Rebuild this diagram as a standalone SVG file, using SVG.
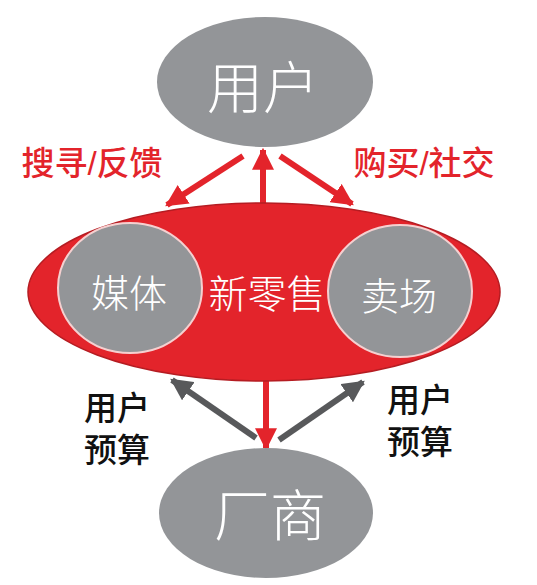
<svg xmlns="http://www.w3.org/2000/svg" width="537" height="585" viewBox="0 0 537 585">
<defs>
<style>
.gray{fill:#939598}
.wt{fill:#ffffff;font-family:"Noto Sans CJK SC",sans-serif;font-weight:300;text-anchor:middle;dominant-baseline:central}
.lbl{font-family:"Liberation Sans","Noto Sans CJK SC",sans-serif;font-weight:500;text-anchor:middle}
.red{stroke:#e3242b;stroke-width:6;fill:none}
.dk{stroke:#58595b;stroke-width:6;fill:none}
</style>
<marker id="ar" viewBox="0 0 10 10" refX="9" refY="5" markerWidth="22" markerHeight="22" markerUnits="userSpaceOnUse" orient="auto"><path d="M0,0 L10,5 L0,10 z" fill="#e3242b"/></marker>
<marker id="ag" viewBox="0 0 10 10" refX="9" refY="5" markerWidth="22" markerHeight="22" markerUnits="userSpaceOnUse" orient="auto"><path d="M0,0 L10,5 L0,10 z" fill="#58595b"/></marker>
</defs>
<rect width="537" height="585" fill="#ffffff"/>
<g id="connectors">
<line class="red" x1="243" y1="156" x2="167" y2="205" marker-end="url(#ar)"/>
<line class="red" x1="263" y1="204" x2="263" y2="150" marker-end="url(#ar)"/>
<line class="red" x1="280" y1="156" x2="352" y2="204" marker-end="url(#ar)"/>
<line class="red" x1="266" y1="380" x2="266" y2="448" marker-end="url(#ar)"/>
<line class="dk" x1="256" y1="438" x2="172" y2="380" marker-end="url(#ag)"/>
<line class="dk" x1="279" y1="440" x2="363" y2="382" marker-end="url(#ag)"/>
</g>
<g id="user">
<ellipse class="gray" cx="265" cy="82" rx="108" ry="65"/>
<text class="wt" x="263" y="83" font-size="56">用户</text>
</g>
<g id="retail">
<ellipse cx="264" cy="292" rx="236" ry="89" fill="#e3242b" stroke="#b51c22" stroke-width="1.5"/>
<text class="wt" x="267" y="291" font-size="39" font-weight="400">新零售</text>
</g>
<g id="media">
<ellipse class="gray" cx="130" cy="288" rx="72" ry="65" stroke="#f5d0d0" stroke-width="2"/>
<text class="wt" x="129" y="290" font-size="38">媒体</text>
</g>
<g id="store">
<ellipse class="gray" cx="400" cy="291" rx="72" ry="66" stroke="#f5d0d0" stroke-width="2"/>
<text class="wt" x="399" y="293" font-size="38">卖场</text>
</g>
<g id="maker">
<ellipse class="gray" cx="266" cy="513" rx="107" ry="65"/>
<text class="wt" x="270" y="511" font-size="56">厂商</text>
</g>
<g id="labels">
<text class="lbl" x="92" y="175" font-size="33" fill="#e3242b">搜寻/反馈</text>
<text class="lbl" x="424" y="175" font-size="33" fill="#e3242b">购买/社交</text>
<text class="lbl" font-size="33" fill="#111111"><tspan x="117" y="420">用户</tspan><tspan x="117" y="462">预算</tspan></text>
<text class="lbl" font-size="33" fill="#111111"><tspan x="420" y="412">用户</tspan><tspan x="420" y="454">预算</tspan></text>
</g>
</svg>
